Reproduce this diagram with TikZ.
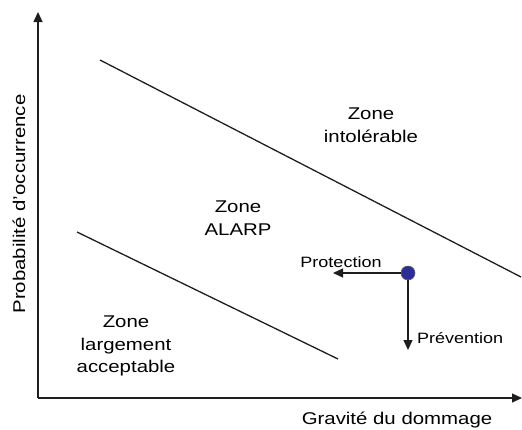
\documentclass[tikz,border=0pt]{standalone}
\usepackage{fontspec}
\setmainfont{Liberation Sans}[FakeStretch=1.2]
\usepackage{xcolor}
\usepackage{tikz}
\usetikzlibrary{arrows.meta}
\definecolor{figline}{RGB}{30,30,30}
\definecolor{figdot}{RGB}{43,46,150}
\tikzset{
  ax/.style   ={draw=figline, line width=1.3pt, -{Triangle[length=10pt,width=9pt]}},
  bnd/.style  ={draw=figline, line width=1.3pt},
  zlab/.style ={font=\fontsize{17}{22.5}\selectfont, align=center, inner sep=0pt, anchor=north},
  lab/.style  ={font=\fontsize{17}{22.5}\selectfont, inner sep=0pt, anchor=base},
  labs/.style ={font=\fontsize{15}{18}\selectfont, inner sep=0pt, anchor=base},
  ptr/.style  ={draw=figline, line width=1.3pt, -{Triangle[length=10pt,width=9pt]}},
  riskdot/.style={circle, fill=figdot, draw=figline!70, line width=0.6pt, minimum size=14pt, inner sep=0pt},
}
\begin{document}
\begin{tikzpicture}[x=1pt,y=-1pt]
  \useasboundingbox (0,0) rectangle (522,429);
  % axes
  \coordinate (o) at (38,398);
  \coordinate (ytop) at (38,12);
  \coordinate (xend) at (522,398);
  \draw[ax] (o) -- (ytop);
  \draw[ax] (o) -- (xend);
  \node[lab,rotate=90] (ylab) at (25,204) {Probabilit\'e d'occurrence};
  \node[lab] (xlab) at (397,424) {Gravit\'e du dommage};
  % zone boundaries
  \coordinate (hiA) at (100,60);
  \coordinate (hiB) at (521,277);
  \coordinate (loA) at (77,232);
  \coordinate (loB) at (338,359);
  \draw[bnd] (hiA) -- (hiB);
  \draw[bnd] (loA) -- (loB);
  % zones
  \node[zlab] (zint) at (371,108) {Zone\\intol\'erable};
  \node[zlab] (zalarp) at (238,201) {Zone\\ALARP};
  \node[zlab] (zacc) at (126,316) {Zone\\largement\\acceptable};
  % risk point
  \node[riskdot] (risk) at (408,273) {};
  \coordinate (protEnd) at (333,273);
  \coordinate (prevEnd) at (408,350);
  \draw[ptr] (risk.west) -- (protEnd);
  \draw[ptr] (risk.south) -- (prevEnd);
  \node[labs] (prot) at (341,267) {Protection};
  \node[labs,anchor=base west] (prev) at (417,343) {Pr\'evention};
\end{tikzpicture}
\end{document}
